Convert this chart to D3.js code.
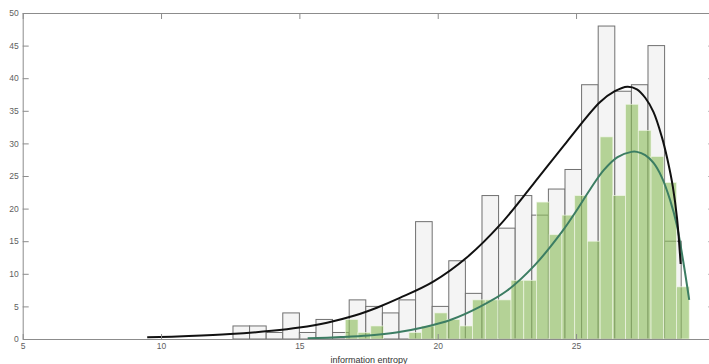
<!DOCTYPE html>
<html>
<head>
<meta charset="utf-8">
<script src="https://cdn.jsdelivr.net/npm/d3@7/dist/d3.min.js"></script>
<style>
  html, body { margin: 0; padding: 0; background: #fff; }
  svg { display: block; }
</style>
</head>
<body>
<script>
// Histogram of information entropy: all samples (grey) and a subset (green), each with a fitted density curve.

const xTicks = [5, 10, 15, 20, 25];
const yTicks = [0, 5, 10, 15, 20, 25, 30, 35, 40, 45, 50];
const xLabel = "information entropy";

// All samples: bin edges and counts
const greyEdges = [12.6, 13.2, 13.8, 14.4, 15.0, 15.6, 16.2, 16.8, 17.4, 18.0, 18.6, 19.2, 19.8, 20.4,
                   21.0, 21.6, 22.2, 22.8, 23.4, 24.0, 24.6, 25.2, 25.8, 26.4, 27.0, 27.6, 28.2, 28.8];
const greyCounts = [2, 2, 1, 4, 1, 3, 1, 6, 5, 4, 6, 18, 5, 12,
                    7, 22, 17, 22, 19, 23, 26, 39, 48, 38, 39, 45, 15];

// Subset: bin edges and counts
const greenEdges = [16.66, 17.12, 17.58, 18.04, 18.50, 18.96, 19.42, 19.88, 20.34, 20.80, 21.26, 21.72, 22.18, 22.65,
                    23.11, 23.57, 24.03, 24.49, 24.95, 25.41, 25.87, 26.33, 26.79, 27.25, 27.71, 28.17, 28.63, 29.09];
const greenCounts = [3, 1, 2, 0, 0, 1, 2, 4, 3, 2, 6, 6, 6, 9,
                     9, 21, 16, 19, 22, 15, 31, 22, 36, 32, 28, 24, 8];

// Fitted density curves (entropy, scaled count)
const blackFitX = [9.5, 11, 12.5, 14, 15, 16, 17, 17.8, 18.63, 19.84, 21.05, 22.25, 23.46, 24.66,
                   25.86, 26.4, 26.85, 27.2, 27.5, 27.8, 28.1, 28.3, 28.5, 28.65, 28.78];
const blackFitY = [0.25, 0.45, 0.75, 1.25, 1.75, 2.5, 3.6, 4.8, 6.3, 8.8, 12.5, 17.5, 23.8, 30.2,
                   36.3, 38.0, 38.7, 38.3, 37.0, 34.8, 31.0, 27.6, 23.3, 18.5, 11.5];
const greenFitX = [15.3, 16.5, 17.5, 18.5, 19.5, 20.5, 21.5, 22.5, 23.5, 24.5, 25.0, 25.5, 26.0, 26.5,
                   27.0, 27.2, 27.5, 27.8, 28.1, 28.4, 28.64, 28.87, 29.09];
const greenFitY = [0.1, 0.3, 0.55, 1.0, 1.8, 3.0, 4.9, 7.4, 11.3, 16.5, 19.6, 22.9, 25.9, 27.9,
                   28.7, 28.7, 28.2, 27.0, 24.8, 21.3, 17.5, 12.0, 6.0];

const W = 709, H = 364;
const svg = d3.select("body").append("svg").attr("width", W).attr("height", H);

const x = d3.scaleLinear().domain([5, 30]).range([22.7, 714.4]);
const y = d3.scaleLinear().domain([0, 50]).range([339, 13]);

const plot = svg.append("g");

// grey histogram
plot.selectAll("rect.grey").data(greyCounts).join("rect")
  .attr("class", "grey")
  .attr("x", (d, i) => x(greyEdges[i]))
  .attr("width", (d, i) => x(greyEdges[i + 1]) - x(greyEdges[i]))
  .attr("y", d => y(d))
  .attr("height", d => y(0) - y(d))
  .attr("fill", "#f4f4f4")
  .attr("stroke", "#707070")
  .attr("stroke-width", 1);

// green histogram, translucent over the grey one
plot.selectAll("rect.green").data(greenCounts).join("rect")
  .attr("class", "green")
  .attr("x", (d, i) => x(greenEdges[i]))
  .attr("width", (d, i) => x(greenEdges[i + 1]) - x(greenEdges[i]))
  .attr("y", d => y(d))
  .attr("height", d => y(0) - y(d))
  .attr("fill", "#8dbd5c")
  .attr("fill-opacity", 0.62)
  .attr("stroke", "#f2f7ea")
  .attr("stroke-opacity", 0.8)
  .attr("stroke-width", 0.8);

const line = d3.line().x(d => x(d[0])).y(d => y(d[1])).curve(d3.curveCatmullRom.alpha(0.5));

plot.append("path")
  .datum(greenFitX.map((v, i) => [v, greenFitY[i]]))
  .attr("d", line)
  .attr("fill", "none")
  .attr("stroke", "#3c7d63")
  .attr("stroke-width", 2);

plot.append("path")
  .datum(blackFitX.map((v, i) => [v, blackFitY[i]]))
  .attr("d", line)
  .attr("fill", "none")
  .attr("stroke", "#111")
  .attr("stroke-width", 2);

// axes with inward ticks on all four sides
const axisColor = "#8c8c8c";
function styleAxis(g) {
  g.select(".domain").attr("stroke", axisColor);
  g.selectAll(".tick line").attr("stroke", axisColor);
  g.selectAll(".tick text").attr("fill", "#5e5e5e")
    .style("font-family", "'Liberation Sans', Arial, sans-serif").style("font-size", "8.5px");
}

svg.append("g").attr("transform", `translate(0,${y(0)})`)
  .call(d3.axisBottom(x).tickValues(xTicks).tickSizeInner(-5).tickSizeOuter(0).tickPadding(4).tickFormat(d3.format("d")))
  .call(styleAxis);

svg.append("g").attr("transform", `translate(0,${y(50)})`)
  .call(d3.axisTop(x).tickValues(xTicks).tickSizeInner(-6).tickSizeOuter(0).tickFormat(""))
  .call(styleAxis);

svg.append("g").attr("transform", `translate(${x(5)},0)`)
  .call(d3.axisLeft(y).tickValues(yTicks).tickSizeInner(-6).tickSizeOuter(0).tickPadding(4).tickFormat(d3.format("d")))
  .call(styleAxis);

svg.append("g").attr("transform", `translate(${x(30)},0)`)
  .call(d3.axisRight(y).tickValues(yTicks).tickSizeInner(-6).tickSizeOuter(0).tickFormat(""))
  .call(styleAxis);

svg.append("text")
  .attr("x", 369).attr("y", 363)
  .attr("text-anchor", "middle")
  .attr("fill", "#333")
  .style("font-family", "'Liberation Sans', Arial, sans-serif")
  .style("font-size", "9px")
  .text(xLabel);
</script>
</body>
</html>
